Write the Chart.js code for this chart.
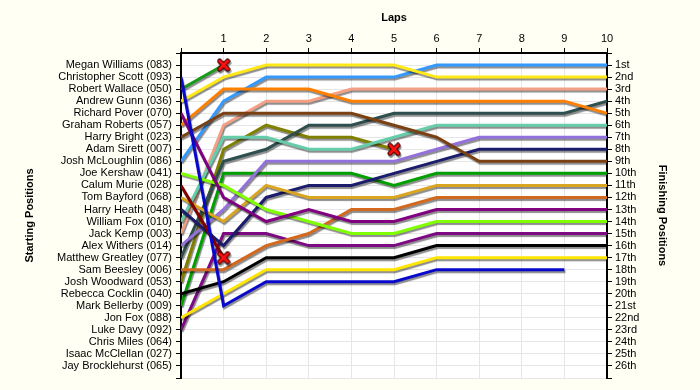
<!DOCTYPE html>
<html>
<head>
<meta charset="utf-8">
<script src="https://cdn.jsdelivr.net/npm/chart.js@4.4.1/dist/chart.umd.min.js"></script>
<style>
  html, body { margin: 0; padding: 0; background: #fffff4; }
  #wrap { width: 700px; height: 390px; }
</style>
</head>
<body>
<div id="wrap"><canvas id="lapChart"></canvas></div>
<script>
// grid order, pole first
var startNames = ["Megan Williams (083)", "Christopher Scott (093)", "Robert Wallace (050)", "Andrew Gunn (036)",
  "Richard Pover (070)", "Graham Roberts (057)", "Harry Bright (023)", "Adam Sirett (007)", "Josh McLoughlin (086)",
  "Joe Kershaw (041)", "Calum Murie (028)", "Tom Bayford (068)", "Harry Heath (048)", "William Fox (010)",
  "Jack Kemp (003)", "Alex Withers (014)", "Matthew Greatley (077)", "Sam Beesley (006)", "Josh Woodward (053)",
  "Rebecca Cocklin (040)", "Mark Bellerby (009)", "Jon Fox (088)", "Luke Davy (092)", "Chris Miles (064)",
  "Isaac McClellan (027)", "Jay Brocklehurst (065)"];
var finishLabels = ["1st", "2nd", "3rd", "4th", "5th", "6th", "7th", "8th", "9th", "10th", "11th", "12th", "13th",
  "14th", "15th", "16th", "17th", "18th", "19th", "20th", "21st", "22nd", "23rd", "24th", "25th", "26th"];
var lapLabels = ["", "1", "2", "3", "4", "5", "6", "7", "8", "9", "10"];

// position at each lap, index 0 = start
var scottPos     = [2, 21, 19, 19, 19, 19, 18, 18, 18, 18];
var wallacePos   = [3, 1];
var gunnPos      = [4, 2, 1, 1, 1, 1, 2, 2, 2, 2, 2];
var poverPos     = [5, 12, 14, 13, 14, 14, 13, 13, 13, 13, 13];
var robertsPos   = [6, 3, 3, 3, 4, 4, 4, 4, 4, 4, 5];
var brightPos    = [7, 5, 5, 5, 5, 6, 7, 9, 9, 9, 9];
var mcloughPos   = [9, 4, 2, 2, 2, 2, 1, 1, 1, 1, 1];
var kershawPos   = [10, 11, 13, 14, 15, 15, 14, 14, 14, 14, 14];
var muriePos     = [11, 17];
var bayfordPos   = [12, 14, 11, 12, 12, 12, 11, 11, 11, 11, 11];
var heathPos     = [13, 16, 12, 11, 11, 10, 9, 8, 8, 8, 8];
var foxWPos      = [14, 7, 7, 8, 8, 7, 6, 6, 6, 6, 6];
var kempPos      = [15, 6, 4, 4, 3, 3, 3, 3, 3, 3, 3];
var withersPos   = [16, 13, 9, 9, 9, 9, 8, 7, 7, 7, 7];
var greatleyPos  = [17, 9, 8, 6, 6, 5, 5, 5, 5, 5, 4];
var beesleyPos   = [18, 18, 16, 15, 13, 13, 12, 12, 12, 12, 12];
var woodwardPos  = [19, 8, 6, 7, 7, 8];
var cocklinPos   = [20, 19, 17, 17, 17, 17, 16, 16, 16, 16, 16];
var bellerbyPos  = [21, 10, 10, 10, 10, 11, 10, 10, 10, 10, 10];
var foxJPos      = [22, 20, 18, 18, 18, 18, 17, 17, 17, 17, 17];
var davyPos      = [23, 15, 15, 16, 16, 16, 15, 15, 15, 15, 15];

var driverSeries = [scottPos, wallacePos, gunnPos, poverPos, robertsPos, brightPos, mcloughPos, kershawPos,
  muriePos, bayfordPos, heathPos, foxWPos, kempPos, withersPos, greatleyPos, beesleyPos, woodwardPos,
  cocklinPos, bellerbyPos, foxJPos, davyPos];
var driverRetired = [false, true, false, false, false, false, false, false,
  true, false, false, false, false, false, false, false, true,
  false, false, false, false];
var driverColors = ["#0808cc", "#17991a", "#ffe817", "#800080", "#ff8000", "#7a4214", "#3399ff", "#80ff00",
  "#800000", "#daa520", "#1c1c6c", "#66cdaa", "#f4a084", "#9370db", "#2f4f4f", "#d2691e", "#808000",
  "#000000", "#00a000", "#ffe600", "#7d0a82"];

function makeCross() {
  var c = document.createElement('canvas');
  c.width = 14; c.height = 14;
  var g = c.getContext('2d');
  g.lineCap = 'round';
  g.strokeStyle = '#400000';
  g.lineWidth = 5;
  g.beginPath(); g.moveTo(3, 3); g.lineTo(11, 11); g.moveTo(11, 3); g.lineTo(3, 11); g.stroke();
  g.strokeStyle = '#ff1010';
  g.lineWidth = 3;
  g.beginPath(); g.moveTo(3, 3); g.lineTo(11, 11); g.moveTo(11, 3); g.lineTo(3, 11); g.stroke();
  return c;
}
var cross = makeCross();

var datasets = [];
for (var i = 0; i < driverSeries.length; i++) {
  var pts = [];
  for (var lap = 0; lap < driverSeries[i].length; lap++) {
    pts.push({x: lap, y: driverSeries[i][lap]});
  }
  var radii = pts.map(function(p, k) { return 0; });
  if (driverRetired[i]) radii[radii.length - 1] = 6;
  datasets.push({
    data: pts,
    borderColor: driverColors[i],
    backgroundColor: driverColors[i],
    borderWidth: 3,
    tension: 0,
    pointRadius: radii,
    pointHoverRadius: radii,
    pointStyle: cross
  });
}

var plotBg = {
  id: 'plotBg',
  beforeDraw: function(chart) {
    var a = chart.chartArea, ctx = chart.ctx;
    ctx.save();
    ctx.fillStyle = '#ffffff';
    ctx.fillRect(a.left, a.top, a.right - a.left, a.bottom - a.top);
    ctx.restore();
  }
};
var lineShadow = {
  id: 'lineShadow',
  beforeDatasetsDraw: function(chart) {
    var ctx = chart.ctx;
    ctx.save();
    ctx.shadowColor = 'rgba(0,0,0,0.45)';
    ctx.shadowOffsetX = 1;
    ctx.shadowOffsetY = 2;
    ctx.shadowBlur = 1;
  },
  afterDatasetsDraw: function(chart) {
    chart.ctx.restore();
  }
};

var fontFam = "'Liberation Sans', Arial, sans-serif";
Chart.defaults.font.family = fontFam;
Chart.defaults.color = '#000';

new Chart(document.getElementById('lapChart'), {
  type: 'line',
  data: { datasets: datasets },
  plugins: [plotBg, lineShadow],
  options: {
    responsive: true,
    maintainAspectRatio: false,
    animation: false,
    layout: { padding: { top: 0, left: 0, right: 0, bottom: 12 } },
    plugins: { legend: { display: false }, tooltip: { enabled: false } },
    scales: {
      x: {
        type: 'linear', position: 'top', min: 0, max: 10,
        afterFit: function(s) { s.height = 53; },
        grid: { color: '#e6e6e6', tickColor: '#000', tickLength: 5 },
        border: { color: '#000', width: 2 },
        ticks: {
          stepSize: 1, padding: 2, maxRotation: 0, autoSkip: false,
          font: { size: 11 },
          callback: function(v) { return lapLabels[v]; }
        },
        title: { display: true, text: 'Laps', font: { size: 11, weight: 'bold' }, padding: { top: 11, bottom: 0 } }
      },
      y: {
        type: 'linear', position: 'left', min: 0, max: 27, reverse: true,
        afterFit: function(s) { s.width = 181; },
        grid: { color: '#e6e6e6', tickColor: '#000', tickLength: 5 },
        border: { color: '#000', width: 2 },
        ticks: {
          stepSize: 1, padding: 4, autoSkip: false,
          font: { size: 11, lineHeight: 1 },
          callback: function(v) { return startNames[v - 1] || ''; }
        },
        title: { display: true, text: 'Starting Positions', font: { size: 11, weight: 'bold' }, padding: { top: 23, bottom: 0 } }
      },
      y2: {
        type: 'linear', position: 'right', min: 0, max: 27, reverse: true,
        afterFit: function(s) { s.width = 93; },
        grid: { drawOnChartArea: false, color: '#000', tickColor: '#000', tickLength: 5 },
        border: { color: '#000', width: 2 },
        ticks: {
          stepSize: 1, padding: 3, autoSkip: false,
          font: { size: 11, lineHeight: 1 },
          callback: function(v) { return finishLabels[v - 1] || ''; }
        },
        title: { display: true, text: 'Finishing Positions', font: { size: 11, weight: 'bold' }, padding: { top: 31, bottom: 0 } }
      }
    }
  }
});
</script>
</body>
</html>
